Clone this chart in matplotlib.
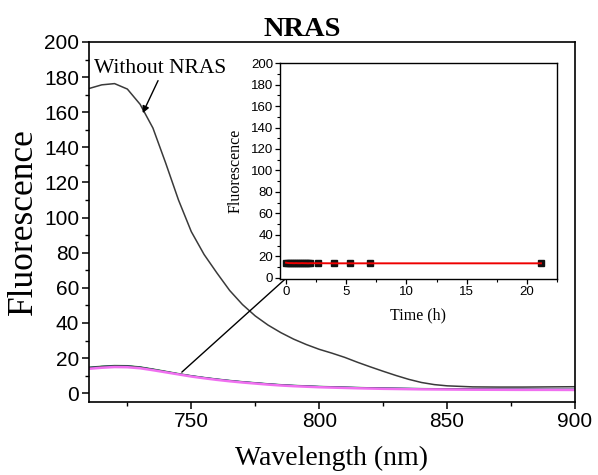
import matplotlib.pyplot as plt
from matplotlib.ticker import MultipleLocator

# 波长 (nm)
wl = [710, 715, 720, 725, 730, 735, 740, 745, 750, 755, 760, 765, 770, 775, 780,
      785, 790, 795, 800, 805, 810, 815, 820, 825, 830, 835, 840, 845, 850,
      860, 870, 880, 890, 900]
# Without NRAS
without_nras = [173.5, 175.6, 176.3, 173.2, 164.5, 151, 131, 110, 92, 79, 68.5, 58.5, 50.5, 44, 38.8,
                34.5, 30.8, 27.7, 25, 22.8, 20.4, 17.6, 15, 12.5, 10.1, 7.9, 6.1, 4.9, 4.2,
                3.6, 3.5, 3.5, 3.6, 3.7]
# with NRAS, several times
s_green = [14.7, 15.3, 15.7, 15.6, 14.9, 13.7, 12.4, 11.1, 9.9, 8.9, 8.0, 7.2, 6.5, 5.9, 5.3,
           4.8, 4.4, 4.1, 3.8, 3.6, 3.4, 3.2, 3.0, 2.85, 2.75, 2.65, 2.55, 2.5, 2.45,
           2.35, 2.25, 2.2, 2.15, 2.1]
s_blue = [14.5, 15.1, 15.5, 15.4, 14.7, 13.5, 12.2, 10.9, 9.8, 8.8, 7.9, 7.1, 6.4, 5.8, 5.2,
          4.7, 4.3, 4.0, 3.7, 3.5, 3.3, 3.1, 2.95, 2.8, 2.7, 2.6, 2.5, 2.45, 2.4,
          2.3, 2.2, 2.15, 2.1, 2.1]
s_dark = [14.6, 15.2, 15.6, 15.5, 14.8, 13.6, 12.3, 11.0, 9.8, 8.8, 7.9, 7.1, 6.4, 5.8, 5.2,
          4.7, 4.3, 4.0, 3.7, 3.5, 3.3, 3.1, 2.95, 2.8, 2.7, 2.6, 2.5, 2.45, 2.4,
          2.3, 2.2, 2.15, 2.1, 2.1]
s_pink = [13.9, 14.5, 14.9, 14.8, 14.2, 13.1, 11.9, 10.7, 9.5, 8.5, 7.6, 6.8, 6.1, 5.5, 4.9,
          4.4, 4.0, 3.7, 3.4, 3.2, 3.0, 2.8, 2.65, 2.5, 2.4, 2.3, 2.2, 2.15, 2.1,
          2.0, 1.95, 1.9, 1.9, 1.85]

# inset: time (h) vs fluorescence
t_h = [0, 0.17, 0.33, 0.5, 0.67, 0.83, 1.0, 1.17, 1.33, 1.5, 1.67, 1.83, 2.0,
       2.67, 4.0, 5.33, 7.0, 21.17]
f_t = [14.2, 13.9, 13.8, 13.8, 13.7, 13.8, 13.7, 13.7, 13.8, 13.7, 13.7, 13.6, 13.7,
       13.7, 13.6, 13.6, 13.6, 13.6]

sans = 'Liberation Sans'
serif = 'Liberation Serif'

fig = plt.figure(figsize=(5.98, 4.75), dpi=100)
ax = fig.add_axes([0.1488, 0.1537, 0.8127, 0.7579])

ax.plot(wl, without_nras, color='#3a3a3a', lw=1.1)
ax.plot(wl, s_green, color='#3aa83a', lw=1.2)
ax.plot(wl, s_blue, color='#2040b0', lw=1.2)
ax.plot(wl, s_dark, color='#444444', lw=1.0)
ax.plot(wl, s_pink, color='#f070f0', lw=1.8)

ax.set_xlim(710, 900)
ax.set_ylim(-5, 200)
ax.xaxis.set_major_locator(MultipleLocator(50))
ax.xaxis.set_minor_locator(MultipleLocator(25))
ax.yaxis.set_major_locator(MultipleLocator(20))
ax.yaxis.set_minor_locator(MultipleLocator(10))
ax.tick_params(which='major', direction='out', length=5, width=1.1, labelsize=15, pad=2)
ax.tick_params(which='minor', direction='out', length=3, width=1.0)
for lab in ax.get_xticklabels() + ax.get_yticklabels():
    lab.set_family(sans)
for sp in ax.spines.values():
    sp.set_linewidth(1.2)

ax.set_xlabel('Wavelength (nm)', family=serif, fontsize=20, labelpad=11)
ax.set_ylabel('Fluorescence', family=serif, fontsize=25.5, labelpad=3)
ax.set_title('NRAS', family=serif, fontsize=20.5, fontweight='bold', pad=1, x=0.438)

ax.text(738, 185, 'Without NRAS', family=serif, fontsize=15.5, ha='center', va='center')
ax.annotate('', xy=(731, 159.5), xytext=(737, 178),
            arrowprops=dict(arrowstyle='-|>', color='black', lw=1.0,
                            mutation_scale=10, shrinkA=0, shrinkB=0))
ax.annotate('', xy=(790.5, 70), xytext=(746.3, 12),
            arrowprops=dict(arrowstyle='-|>', color='black', lw=1.0,
                            mutation_scale=10, shrinkA=0, shrinkB=0))

# inset
ins = fig.add_axes([0.4682, 0.4126, 0.4632, 0.4547])
ins.plot(t_h, f_t, 's', color='#111111', ms=4.5, zorder=2)
ins.plot(t_h, f_t, '-', color='#ee0000', lw=1.4, zorder=3)
ins.set_xlim(-0.5, 22.5)
ins.set_ylim(-1, 200)
ins.xaxis.set_major_locator(MultipleLocator(5))
ins.xaxis.set_minor_locator(MultipleLocator(2.5))
ins.yaxis.set_major_locator(MultipleLocator(20))
ins.yaxis.set_minor_locator(MultipleLocator(10))
ins.tick_params(which='major', direction='out', length=3.5, width=0.9, labelsize=9.5, pad=1.5)
ins.tick_params(which='minor', direction='out', length=2, width=0.8)
for lab in ins.get_xticklabels() + ins.get_yticklabels():
    lab.set_family(sans)
for sp in ins.spines.values():
    sp.set_linewidth(1.0)
ins.set_xlabel('Time (h)', family=serif, fontsize=11.5, labelpad=7)
ins.set_ylabel('Fluorescence', family=serif, fontsize=11.5, labelpad=5)

fig.savefig('out.png', dpi=100)
